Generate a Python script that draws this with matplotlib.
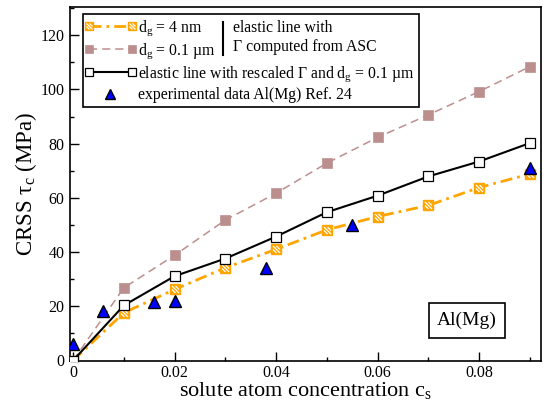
import matplotlib
matplotlib.use("Agg")
import matplotlib.pyplot as plt
from matplotlib.lines import Line2D
from matplotlib.path import Path
from matplotlib.legend_handler import HandlerLine2D, HandlerTuple
from matplotlib.patches import Rectangle

plt.rcParams['font.family'] = ['Liberation Serif', 'DejaVu Serif']
plt.rcParams['mathtext.fontset'] = 'custom'
plt.rcParams['mathtext.rm'] = 'Liberation Serif'
plt.rcParams['mathtext.it'] = 'Liberation Serif:italic'
plt.rcParams['mathtext.bf'] = 'Liberation Serif:bold'

# ---- data ----
cs_model = [0.0, 0.01, 0.02, 0.03, 0.04, 0.05, 0.06, 0.07, 0.08, 0.09]
tau_4nm = [0.0, 17.6, 26.2, 34.2, 41.0, 48.2, 53.1, 57.2, 63.8, 68.8]
tau_01um = [0.0, 26.8, 38.8, 51.8, 61.7, 72.8, 82.3, 90.6, 99.2, 108.4]
tau_rescaled = [0.0, 20.3, 31.1, 37.6, 45.7, 54.7, 60.8, 67.9, 73.4, 80.2]
cs_exp = [0.0, 0.006, 0.016, 0.020, 0.038, 0.055, 0.090]
tau_exp = [6.0, 18.2, 21.5, 21.8, 34.1, 50.1, 71.0]

xticks = [0.0, 0.02, 0.04, 0.06, 0.08]
xtick_labels = ["0", "0.02", "0.04", "0.06", "0.08"]
yticks = [0, 20, 40, 60, 80, 100, 120]
ytick_labels = ["0", "20", "40", "60", "80", "100", "120"]

label_4nm = "d$_{\\rm g}$ = 4 nm"
label_01um = "d$_{\\rm g}$ = 0.1 µm"
label_rescaled = "elastic line with rescaled Γ and d$_{\\rm g}$ = 0.1 µm"
label_exp = "experimental data Al(Mg) Ref. 24"

W, H = 553, 405
fig = plt.figure(figsize=(W / 100, H / 100), dpi=100)
L, R, T, B = 70, 541, 7, 360.5
ax = fig.add_axes([L / W, 1 - B / H, (R - L) / W, (B - T) / H])

ORANGE = '#FFA500'
PINK = '#BC8F8F'

# stripe marker for hatched orange squares
s = 0.78
stripe_verts = [(-s, s), (s, -s), (-s, 0.0), (0.0, -s), (0.0, s), (s, 0.0)]
stripe_codes = [Path.MOVETO, Path.LINETO] * 3
stripe_path = Path(stripe_verts + [(-1, -1), (1, 1)],
                   stripe_codes + [Path.MOVETO, Path.MOVETO])

l_or, = ax.plot(cs_model, tau_4nm, color=ORANGE, lw=2.0,
                linestyle=(0, (4.3, 1.8, 1.0, 1.8)),
                marker='s', ms=6.5, mfc=ORANGE, mec=ORANGE, mew=1.0, zorder=3)
l_or_h, = ax.plot(cs_model, tau_4nm, linestyle='none', marker=stripe_path,
                  ms=6.5, mfc='none', mec='white', mew=0.9, zorder=3.1)
l_pk, = ax.plot(cs_model, tau_01um, color=PINK, lw=1.1,
                linestyle=(0, (5.3, 3.3)),
                marker='s', ms=6.5, mfc=PINK, mec=PINK, mew=0.5, zorder=4)
l_bk, = ax.plot(cs_model, tau_rescaled, color='black', lw=1.5,
                marker='s', ms=6.5, mfc='white', mec='black', mew=0.9, zorder=5)
l_ex, = ax.plot(cs_exp, tau_exp, linestyle='none', marker='^', ms=8.5,
                mfc='#0000FF', mec='black', mew=1.0, zorder=6)

ax.set_xlim(-0.0006, 0.0922)
ax.set_ylim(0, 130.4)
ax.set_xticks(xticks)
ax.set_xticklabels(xtick_labels)
ax.set_xticks([0.01, 0.03, 0.05, 0.07, 0.09], minor=True)
ax.set_yticks(yticks)
ax.set_yticklabels(ytick_labels)
ax.set_yticks([10, 30, 50, 70, 90, 110, 130], minor=True)
ax.tick_params(which='both', direction='in', top=False, right=False,
               labelsize=11.5, width=1.0, pad=4)
ax.tick_params(axis='x', which='both', pad=3)
ax.tick_params(which='major', length=6.5)
ax.tick_params(which='minor', length=3.2)
for sp in ax.spines.values():
    sp.set_linewidth(1.2)

ax.set_xlabel("solute atom concentration c$_{\\rm s}$", fontsize=16, labelpad=-0.5)
ax.set_ylabel("CRSS τ$_{\\rm c}$ (MPa)", fontsize=16.5, labelpad=1)

# legend
hm = {Line2D: HandlerLine2D(marker_pad=0.1, numpoints=2),
      l_ex: HandlerLine2D(marker_pad=0.1, numpoints=1),
      tuple: HandlerTuple(ndivide=1, pad=0)}
leg = ax.legend([(l_or, l_or_h), l_pk, l_bk, l_ex],
                [label_4nm, label_01um, label_rescaled, label_exp],
                handler_map=hm, loc='upper left',
                bbox_to_anchor=((83.3 - L) / (R - L), 1 - (14 - T) / (B - T)),
                borderaxespad=0, fontsize=11.3, frameon=True, fancybox=False,
                edgecolor='black', framealpha=1, handlelength=2.95,
                handletextpad=0.3, labelspacing=0.22, borderpad=0.25,
                markerscale=0.85)
leg.get_frame().set_linewidth(1.2)

def fx(px):
    return px / W

def fy(py):
    return 1 - py / H

fig.add_artist(Line2D([fx(222.7), fx(222.7)], [fy(21.5), fy(55)],
                      color='black', lw=1.5, transform=fig.transFigure))
fig.text(fx(232.7), fy(27.7), "elastic line with", fontsize=11.3, va='center')
fig.text(fx(232.7), fy(46.7), "Γ computed from ASC", fontsize=11.3, va='center')

# Al(Mg) box
fig.add_artist(Rectangle((fx(429.3), fy(338.3)), fx(505) - fx(429.3),
                         fy(303.3) - fy(338.3), transform=fig.transFigure,
                         fill=False, edgecolor='black', lw=1.2))
fig.text(fx(467), fy(320.8), "Al(Mg)", fontsize=14, ha='center', va='center')

fig.savefig("out.png", dpi=100)
